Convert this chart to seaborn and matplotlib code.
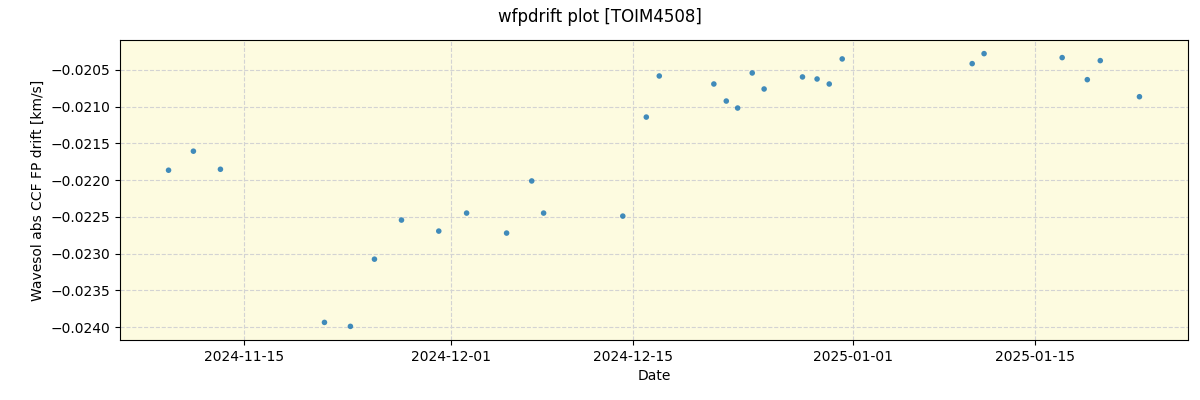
import matplotlib
matplotlib.use("Agg")
import matplotlib.pyplot as plt
import seaborn as sns
import pandas as pd

dates = [
    "2024-11-09 05:00", "2024-11-11 03:00", "2024-11-13 05:00",
    "2024-11-21 05:30", "2024-11-23 05:30", "2024-11-25 02:00",
    "2024-11-27 04:00", "2024-11-30 01:00", "2024-12-02 04:30",
    "2024-12-05 06:30", "2024-12-07 05:00", "2024-12-08 03:00",
    "2024-12-14 05:30", "2024-12-16 01:00", "2024-12-17 01:00",
    "2024-12-21 06:00", "2024-12-22 05:00", "2024-12-23 02:00",
    "2024-12-24 05:00", "2024-12-25 03:00", "2024-12-28 02:00",
    "2024-12-29 05:00", "2024-12-30 03:30", "2024-12-31 03:30",
    "2025-01-10 04:00", "2025-01-11 02:00", "2025-01-17 02:30",
    "2025-01-19 01:00", "2025-01-20 01:00", "2025-01-23 01:30",
]
drift = [
    -0.021864, -0.021605, -0.021851,
    -0.023934, -0.023988, -0.023074,
    -0.022542, -0.022692, -0.022447,
    -0.022719, -0.022010, -0.022447,
    -0.022488, -0.021141, -0.020582,
    -0.020691, -0.020923, -0.021018,
    -0.020541, -0.020759, -0.020595,
    -0.020623, -0.020691, -0.020350,
    -0.020414, -0.020278, -0.020332,
    -0.020632, -0.020373, -0.020864,
]

df = pd.DataFrame({"Date": pd.to_datetime(dates), "drift": drift})

sns.set_style("ticks")
plt.rcParams.update({"text.color": "black", "axes.labelcolor": "black",
                     "xtick.color": "black", "ytick.color": "black"})
fig, ax = plt.subplots(figsize=(12, 4), dpi=100)
ax.set_facecolor("#fdfbe0")
sns.scatterplot(data=df, x="Date", y="drift", ax=ax, s=16, color="#1f77b4",
                alpha=0.85, edgecolor="none", zorder=3)
ax.grid(True, linestyle="--", color="lightgray", linewidth=0.8, zorder=0)
ax.set_axisbelow(True)

ticks = pd.to_datetime(["2024-11-15", "2024-12-01", "2024-12-15", "2025-01-01", "2025-01-15"])
ax.set_xticks(ticks)
ax.set_xticklabels([t.strftime("%Y-%m-%d") for t in ticks])
ax.set_xlabel("Date")
ax.set_ylabel("Wavesol abs CCF FP drift [km/s]")
fig.suptitle("wfpdrift plot [TOIM4508]", fontsize=12)
for sp in ax.spines.values():
    sp.set_visible(True)
    sp.set_color("black")
fig.subplots_adjust(left=0.1, right=0.99, top=0.9, bottom=0.15)
fig.savefig("out.png", dpi=100)
